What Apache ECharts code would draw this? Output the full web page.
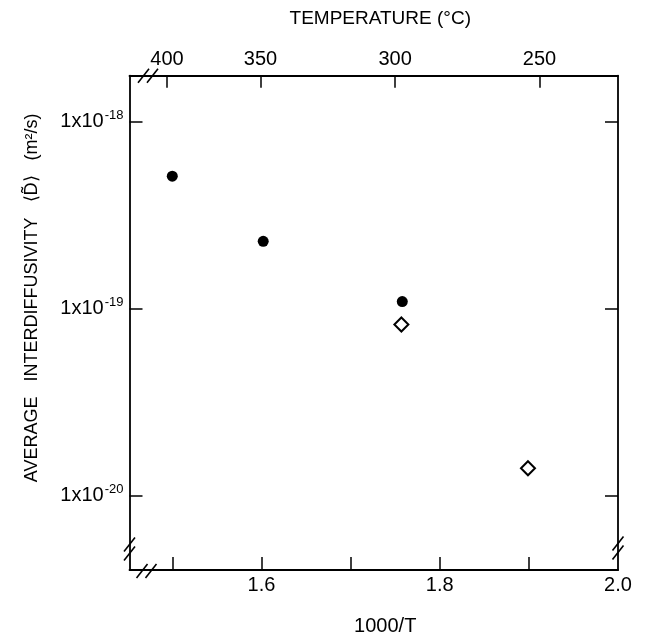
<!DOCTYPE html>
<html>
<head>
<meta charset="utf-8">
<script src="https://cdn.jsdelivr.net/npm/echarts@6/dist/echarts.min.js"></script>
<style>
html,body{margin:0;padding:0;background:#fff;}
#chart{width:654px;height:641px;}
</style>
</head>
<body>
<div id="chart"></div>
<script>
// ---- data ----
const xTickValues = [1.5, 1.6, 1.7, 1.8, 1.9];
const xLabelValues = [1.6, 1.8, 2.0];
const tempLabels = ['400', '350', '300', '250'];
const tempPositions = [1.494, 1.599, 1.750, 1.912];   // 1000/T positions of the top ticks
const yTickValues = [1e-20, 1e-19, 1e-18];
const filledX = [1.500, 1.602, 1.758];
const filledY = [5.11e-19, 2.29e-19, 1.09e-19];
const openX = [1.757, 1.899];
const openY = [8.22e-20, 1.40e-20];

const FONT = 'Liberation Sans';
const G = { left: 129.5, top: 75.7, right: 618, bottom: 571 };

const chart = echarts.init(document.getElementById('chart'), null, { renderer: 'canvas' });

function pairs(xs, ys) { return xs.map((x, i) => [x, ys[i]]); }

function breakMark(cx, cy, vertical) {
  // two short parallel slashes crossing an axis line
  const off = 2.8, hx = 5.5, hy = 7;
  const lines = [];
  for (const s of [-1, 1]) {
    const ox = vertical ? 0 : s * off * 1.6;
    const oy = vertical ? s * off * 1.6 : 0;
    lines.push({
      type: 'line',
      shape: { x1: cx + ox - hx, y1: cy + oy + hy, x2: cx + ox + hx, y2: cy + oy - hy },
      style: { stroke: '#000', lineWidth: 1.6 },
      z: 100
    });
  }
  return lines;
}

const axisLine = { show: true, onZero: false, lineStyle: { color: '#000', width: 1.8 } };

const option = {
  animation: false,
  backgroundColor: '#fff',
  grid: { left: G.left, top: G.top, right: 654 - G.right, bottom: 641 - G.bottom, containLabel: false },
  xAxis: [
    {
      type: 'value', position: 'bottom', min: 1.452, max: 2.0,
      axisLine: axisLine,
      splitLine: { show: false },
      axisTick: { show: true, inside: true, length: 13, customValues: xTickValues, lineStyle: { color: '#000', width: 1.5 } },
      axisLabel: { customValues: xLabelValues, formatter: v => v.toFixed(1), color: '#000', fontFamily: FONT, fontSize: 20, margin: 5 },
      name: '1000/T', nameLocation: 'middle', nameGap: 46,
      nameTextStyle: { color: '#000', fontFamily: FONT, fontSize: 20, padding: [0, 0, 0, 23] }
    },
    {
      type: 'value', position: 'top', min: 1.452, max: 2.0,
      axisLine: axisLine,
      splitLine: { show: false },
      axisTick: { show: true, inside: true, length: 12, customValues: tempPositions, lineStyle: { color: '#000', width: 1.5 } },
      axisLabel: {
        customValues: tempPositions,
        formatter: v => { const i = tempPositions.findIndex(p => Math.abs(p - v) < 1e-6); return i >= 0 ? tempLabels[i] : ''; },
        color: '#000', fontFamily: FONT, fontSize: 20, margin: 6
      },
      name: 'TEMPERATURE (°C)', nameLocation: 'middle', nameGap: 47,
      nameTextStyle: { color: '#000', fontFamily: FONT, fontSize: 19, padding: [0, 0, 0, 13] }
    }
  ],
  yAxis: [
    {
      type: 'log', logBase: 10, position: 'left', min: 4.0e-21, max: 1.76e-18,
      axisLine: axisLine,
      splitLine: { show: false },
      minorTick: { show: false },
      axisTick: { show: true, inside: true, length: 13, customValues: yTickValues, lineStyle: { color: '#000', width: 1.5 } },
      axisLabel: {
        customValues: yTickValues,
        formatter: v => '{b|1x10}{s|' + Math.round(Math.log10(v)) + '}',
        margin: 6,
        rich: {
          b: { color: '#000', fontFamily: FONT, fontSize: 20 },
          s: { color: '#000', fontFamily: FONT, fontSize: 13, padding: [0, 0, 12, 1] }
        }
      },
      name: 'AVERAGE   INTERDIFFUSIVITY   \u27E8D\u0303\u27E9   (m\u00B2/s)',
      nameLocation: 'middle', nameRotate: 90, nameGap: 88,
      nameTextStyle: { color: '#000', fontFamily: FONT, fontSize: 18, padding: [0, 0, 0, 50] }
    },
    {
      type: 'log', logBase: 10, position: 'right', min: 4.0e-21, max: 1.76e-18,
      axisLine: axisLine,
      splitLine: { show: false },
      minorTick: { show: false },
      axisTick: { show: true, inside: true, length: 13, customValues: yTickValues, lineStyle: { color: '#000', width: 1.5 } },
      axisLabel: { show: false }
    }
  ],
  series: [
    {
      name: 'filled', type: 'scatter', xAxisIndex: 0, yAxisIndex: 0,
      symbol: 'circle', symbolSize: 11,
      itemStyle: { color: '#000', opacity: 1 },
      data: pairs(filledX, filledY)
    },
    {
      name: 'open', type: 'scatter', xAxisIndex: 0, yAxisIndex: 0,
      symbol: 'diamond', symbolSize: [14, 14],
      itemStyle: { color: '#fff', borderColor: '#000', borderWidth: 2, opacity: 1 },
      data: pairs(openX, openY)
    }
  ],
  graphic: [].concat(
    breakMark(G.left, 549, true),
    breakMark(G.right, 548, true),
    breakMark(146.5, G.bottom, false),
    breakMark(148, G.top, false)
  )
};

chart.setOption(option);
</script>
</body>
</html>
